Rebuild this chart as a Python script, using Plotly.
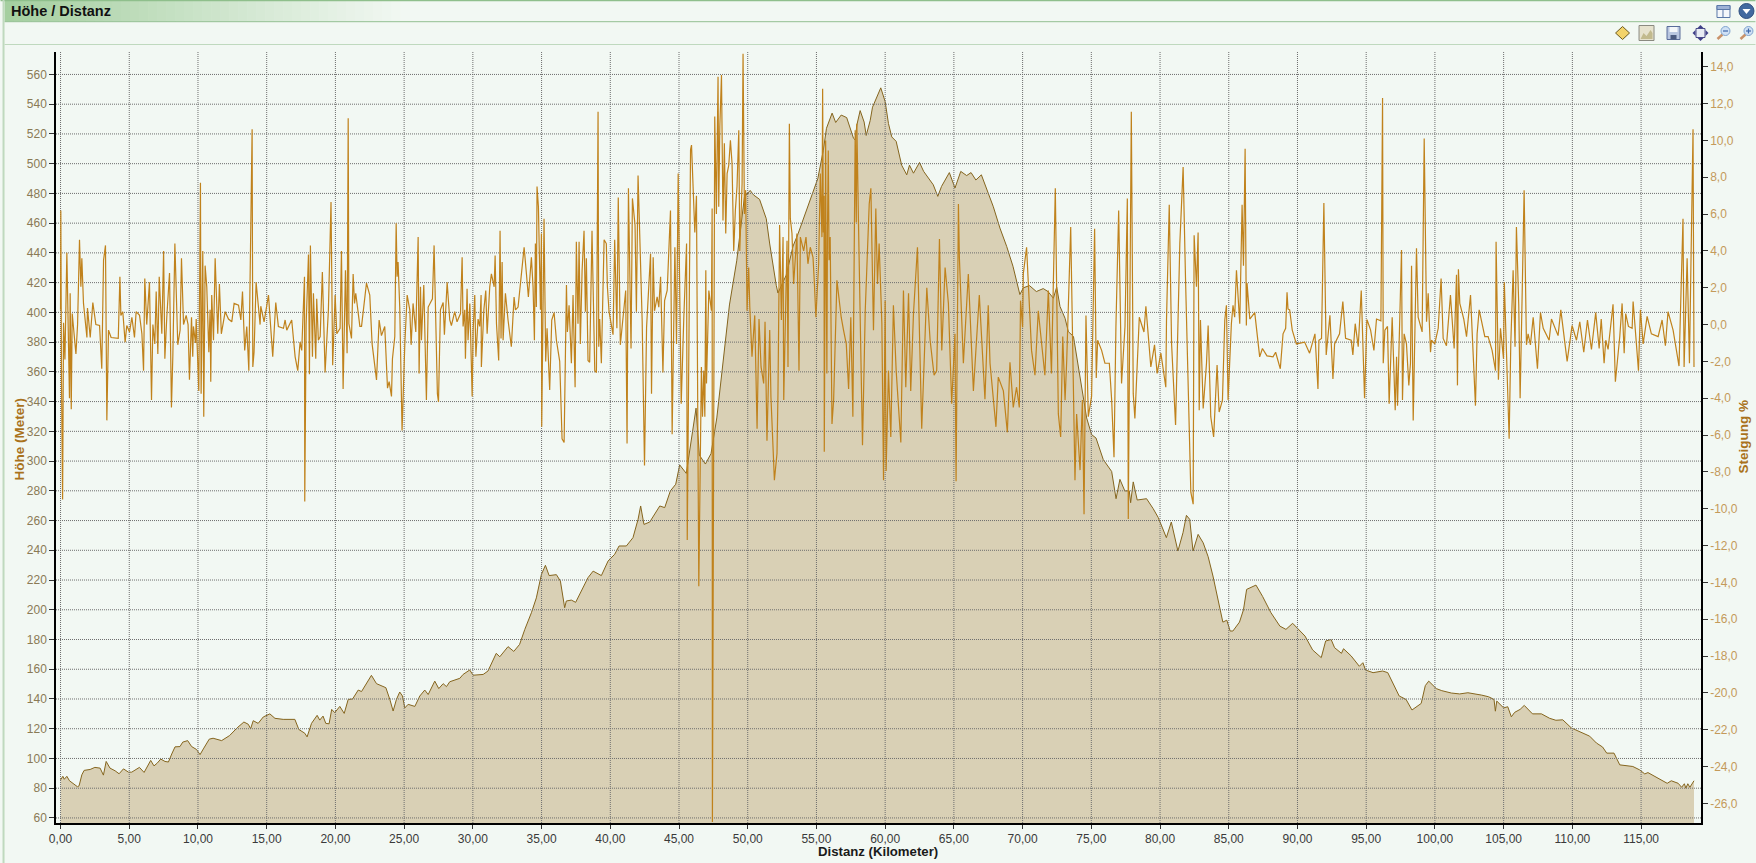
import plotly.graph_objects as go

W, H = 1756, 863
L, R, T, B = 55.5, 1701.5, 52.0, 823.0

TITLE = "Höhe / Distanz"
X_TITLE = "Distanz (Kilometer)"
Y_TITLE = "Höhe (Meter)"
Y2_TITLE = "Steigung %"

x_ticks = list(range(0, 116, 5))
x_labels = [f"{v},00" for v in x_ticks]
y_ticks = list(range(60, 561, 20))
y_labels = [str(v) for v in y_ticks]
y2_ticks = list(range(14, -27, -2))
y2_labels = [f"{v},0" for v in y2_ticks]

# (km, metres)
elevation = [
(0,85.6),(0.17,88),(0.27,86),(0.46,88),(0.65,85),(0.9,83),(1.23,81),(1.35,81.6),(1.55,89),(1.72,92),(2.15,92.6),(2.5,94),(2.88,93.5),(3.12,88.8),(3.32,98),(3.6,93.5),(3.97,91.7),(4.26,89.7),(4.58,93),(4.94,90.8),(5.18,90.8),(5.74,94),(6.08,90.6),(6.56,98.7),(6.8,95),(7.05,97),(7.29,99.6),(7.6,98),(7.85,97.6),(8.09,103),(8.33,107.8),(8.69,108),(8.89,111),(9.25,112),(9.54,108),(9.9,106),(10.15,102.6),(10.39,106.4),(10.82,113),(11.1,113.6),(11.72,112),(12.3,115.4),(12.85,120.6),(13.34,124.5),(13.66,123),(13.83,120),(14.02,125.4),(14.38,123.6),(14.75,127.9),(15.23,130),(15.6,127),(16.2,126.3),(17.05,126.3),(17.34,119.5),(17.77,117),(17.94,114.5),(18.26,123.6),(18.67,129),(18.86,125.8),(19.1,128.5),(19.3,123.6),(19.54,123.3),(19.73,133),(19.95,130.8),
(20.32,135),(20.64,130.3),(20.93,139.7),(21.25,140),(21.66,146),(21.9,145),(22.62,155.9),(22.99,150.3),(23.18,149.4),(23.67,147.6),(23.96,139.7),(24.2,131.9),(24.44,139.7),(24.68,144.7),(24.88,142),(25.05,134),(25.29,136.4),(25.78,135),(26.14,142),(26.5,146),(26.75,143),(27.23,152),(27.52,147),(27.84,150.3),(28.08,148.3),(28.32,151.6),(29.05,153.9),(29.29,156.5),(29.77,159.5),(30.02,156),(30.75,156.5),(31.1,158.8),(31.7,170.7),(31.96,168.4),(32.56,175.2),(32.98,172),(33.4,176.7),(33.78,186.8),(34.26,198),(34.62,208),(34.99,223.8),(35.28,229.9),(35.55,223),(36.08,223.6),(36.37,219.3),(36.68,201.4),(36.8,205.9),(37.17,206.5),(37.48,205),(37.9,212.6),(38.38,221.6),(38.75,226),(39.35,223),(39.84,232.8),(40.32,237.3),(40.64,242.9),(41.17,242.9),(41.65,248.5),(42.02,260.8),(42.21,269.8),(42.45,257.4),(42.87,259),(43.6,269.8),(43.96,268.7),(44.37,279.9),(44.76,284.4),(45.05,297.4),(45.53,291.7),
(46.24,335.6),(46.48,304),(46.92,298),(47.33,305),(47.75,329),(48.67,405),(49.2,434.7),(49.76,477.6),(50.18,482),(50.42,479),(50.86,476),(51.35,463),(51.6,446),(52.08,418),(52.2,413),(52.8,425),(53.3,444.6),(53.66,452.8),(54.03,462.7),(54.76,481),(55.1,490),(55.5,509),(55.73,523.8),(56.14,534),(56.4,527.7),(56.8,532.7),(57.2,531),(57.7,517),
(57.82,516),(57.94,526),(58.18,535.7),(58.47,528),(58.62,519),(58.91,529),(59.08,538),(59.68,551),(60,541.7),(60.24,527),(60.48,518),(60.8,515),(61.2,499),(61.57,492.5),(61.77,499),(62.06,493.6),(62.5,500.8),(62.8,494.8),(63.15,490),(63.5,485.8),(63.83,478),(64.1,484.7),(64.67,494),(65.08,483.6),(65.5,494.8),(65.93,492),(66.25,494),(66.6,489),(67,492.5),(67.5,480),(67.87,471),(68.35,456.7),(68.84,444.4),(69.3,431),(69.8,412),(70.05,416.5),(70.5,418),(71,414),(71.5,416),(71.85,414),(72.24,409.5),(72.48,417),(72.72,404),(73.09,396),(73.33,387),(73.7,383.8),(74.05,363.6),(74.4,343.5),(74.66,329),(75.02,317.8),(75.34,315.5),
(75.87,301),(76.48,293),(76.8,274.7),(77.08,287.7),(77.44,279.9),(77.76,280),(77.86,272),(78.05,286),(78.34,273.8),(79.02,274.7),(79.5,268),(79.87,262),(80.46,248.5),(80.82,259),(81.3,239.5),(81.67,251.8),(81.92,263.5),(82.16,260.8),(82.4,239.5),(82.77,250.7),(83.14,245),(83.5,235.7),(83.85,222.7),(84.1,211.5),(84.57,191.7),(84.86,193),(85.1,185.7),(85.3,185.7),(85.78,191.7),(86.07,200),(86.3,213.7),(86.98,216.6),(87.46,209),(88.07,198),(88.72,189),(89.16,186.8),(89.65,190.9),(90.55,182.3),(91.1,173),(91.73,167.8),(92.05,179),(92.45,180),(92.7,174.5),(93.2,170.7),(93.35,173.8),(93.9,169),(94.5,162),(94.76,164.4),(94.95,159.5),(95.5,157.7),(96.2,158.8),(96.57,157.7),(97.05,148.7),(97.4,142),(97.9,139.7),(98.33,132.6),(99,137),(99.3,149),(99.55,152),(100.1,147),
(100.5,145.6),(101.2,144),(101.8,143.4),(102.4,144.2),(103.4,142.6),(103.9,141.5),(104.3,139.7),(104.4,131.8),(104.5,138.6),(105,134),(105.3,134.8),(105.56,128),(105.8,131),(106.2,133),(106.5,135.7),(107.1,130),(107.75,130),(108.35,127),(108.8,125.7),(109.3,126),(109.93,120.5),(110.65,117.6),(111.26,115),(111.75,110.4),(112.2,107.7),(112.5,103.6),(113.03,103.6),(113.45,95.7),(113.93,95),(114.4,94.6),(114.9,92.3),(115.27,89.6),(115.5,90.5),(116.25,86.7),(116.9,83.3),(117.2,85),(117.7,83.3),(117.95,80.6),(118.15,83),(118.26,80),(118.4,83),(118.55,80.6),(118.85,85),
]

# (km, percent)
gradient_a = [
(0,0.8),(0.02,6.2),(0.07,-3),(0.15,-9.5),(0.22,0.1),(0.32,-1.9),(0.46,3.9),(0.58,-1),(0.65,-4),(0.7,1.7),(0.78,-4.6),(0.85,0.6),(1.02,-0.85),(1.12,-1.6),(1.24,0),(1.38,4.6),(1.48,2.05),(1.55,3.6),(1.67,1.15),(1.92,-0.7),(1.96,0.9),(2.16,-0.7),(2.35,1.2),(2.57,0),(2.84,-0.05),(3,-2.4),(3.13,3.5),(3.27,4.3),(3.37,-5.2),(3.49,-0.3),(3.68,-0.7),(4.2,-0.75),(4.32,2.6),(4.39,0.5),(4.53,0.7),(4.7,-0.95),(4.82,-0.05),(5.02,-0.4),(5.19,0.4),(5.38,-0.7),(5.5,0.7),(5.75,0.5),(5.92,-0.5),(6.04,-2.5),(6.13,2.5),(6.27,0),(6.47,2.3),(6.62,-4.1),(6.72,0),(6.86,-1.05),(6.96,1.8),(7.08,-1.6),(7.18,2.6),(7.37,-0.5),(7.5,4),(7.59,-1.85),(7.73,0.4),(7.93,2.8),(8.07,-4.5),(8.17,-1.75),(8.32,4.4),(8.53,-1.1),(8.7,-0.3),(8.8,3.6),(8.95,0),(9.14,0.5),(9.28,0),(9.38,-3),(9.53,0.4),(9.62,-1.75),(9.67,-0.1),(9.82,-1),(9.87,0.3),(10.06,-3.6),(10.18,7.7),(10.23,-3.75),(10.35,4),(10.42,-5),(10.52,3.2),(10.64,2.05),(10.79,-1.5),(10.88,0.8),(10.93,-3.1),(11,1.6),(11.13,-0.85),(11.25,3.6),(11.44,-0.5),(11.56,2.2),(11.7,-0.5),(11.98,0.7),(12.22,0.3),(12.46,0.15),(12.63,1.15),(12.95,1.05),(13.12,0.25),(13.24,1.8),(13.4,-1.4),(13.55,-0.1),(13.7,-2.5),(13.94,10.6),(13.99,-2.3),(14.08,-1.5),(14.23,2.3),(14.52,0),(14.57,1),(14.81,0.15),(15.13,1.6),(15.44,-1.75),(15.66,1.2),(15.85,-0.1),(16.22,-0.2),(16.34,0.25),(16.46,-0.3),(16.82,0.25),(17.07,-1.75),(17.26,-2.5),(17.43,-0.95),(17.55,-1.4),(17.75,2.6),(17.77,-9.6),(17.87,0),(18.04,3.8),(18.11,-2.7),(18.18,4.3),(18.33,-1.75),(18.4,1.7),(18.57,-1.85),(18.64,1.4),(18.76,-0.85),(18.89,-0.65),(19.05,2.85),(19.25,-2.6),(19.49,0.8),(19.68,6.65),(19.8,-2.2),(19.98,1.6),(20.1,-0.5),(20.34,-0.2),
(20.44,4),(20.56,-3.5),(20.73,2.95),(20.85,-1.55),(20.93,11.2),(20.98,0.05),(21.17,-0.75),(21.29,2.75),(21.39,1.15),(21.48,1.7),(21.78,-0.1),(21.9,-0.1),(22.26,2.25),(22.5,1.6),(22.67,-1.05),(22.99,-3),(23.18,0.25),(23.35,-0.6),(23.59,-0.1),(23.79,-3.45),(23.91,-3.1),(24.08,-3.9),(24.15,-1.85),(24.32,-0.65),(24.42,5.5),(24.49,2.6),(24.56,3.4),(24.68,0.95),(24.85,-5.75),(25.05,-1.05),(25.22,1.6),(25.41,0.8),(25.51,-1.1),(25.65,1.15),(25.85,-0.4),(26.02,4.75),(26.09,-2.65),(26.19,2.05),(26.26,-0.85),(26.43,2.15),(26.62,-4.1),(26.75,0.95),(27.06,1.4),(27.18,4.3),(27.42,-3.75),(27.5,-4.2),(27.64,0.8),(27.84,1.2),(27.93,-0.55),(28.13,2.3),(28.32,0.25),(28.44,-0.05),(28.68,0.7),(28.85,0.15),(29.1,0.6),(29.22,3.65),(29.29,-0.1),(29.41,0.8),(29.46,-1.85),(29.58,1.95),(29.65,-0.85),(29.78,1.15),(29.95,-3.9),(30.02,-0.3),(30.14,1.6),(30.22,-1.75),(30.38,0.3),(30.5,-0.1),(30.6,1.6),(30.62,-2.3),(30.8,0.8),(30.94,1.85),(31.04,-0.5),(31.23,2.05),(31.35,2.75),(31.55,2.05),(31.62,3.75),(31.72,0.05),(31.88,-1.95),(31.98,5.1),(32.05,-0.75),(32.13,3.4),(32.2,-0.85),(32.37,1.7),(32.56,0.25),(32.8,-1.2),(33,1.5),(33.1,0.8),(33.29,0.95),(33.53,2.75),(33.73,4.2),(33.9,2.75),(34.04,1.5),(34.26,3.65),(34.38,2.05),(34.48,-0.85),(34.55,4.4),(34.62,0.95),(34.67,7.5),(34.77,6.4),(34.92,0.8),(34.99,4.95),(35.01,-5.55),(35.18,5.75),(35.3,-2),(35.4,-0.2),(35.59,-3.55),(35.74,0.25),(35.91,0.65),(36.08,-0.85),(36.32,-2),(36.49,-6.2),(36.64,-6.4),(36.81,2.15),(36.88,-0.4),(37,1.05),(37.17,-2.1),(37.29,1.6),(37.44,-3.4),(37.53,4.5),(37.65,0.05),(37.73,4.5),(37.82,-1.05),(37.95,2.95),(38.09,5.1),(38.19,0.7),(38.26,3.6),(38.38,-1.95),(38.5,-2.05),(38.67,5.1),(38.87,-2.5),(38.99,-2.6),(39.11,11.55),(39.16,-1.2),(39.23,0.3),(39.35,-2.1),(39.55,4.6),(39.71,4.4),(39.79,2.05),(39.91,0.7),(40.08,0.05),(40.2,-0.55),(40.32,4.6),(40.48,-0.2),(40.58,6.9),(40.73,-1.1),(40.93,0.4),(41.12,1.85),(41.22,-6.45),(41.32,7.4),(41.51,-1.3),(41.61,6.85),(41.8,5.4),(41.9,0.7),(42.02,8.1),
]
gradient_b = [
(42.2,4),(42.32,0.2),(42.49,-7.65),(42.64,-0.15),(42.93,3.85),(43,-3.75),(43.12,3.65),(43.22,0.75),(43.41,1.5),(43.53,0.95),(43.66,2.6),(43.83,-2.6),(43.95,1.3),(44.14,1.85),(44.38,6.2),(44.5,-5.95),(44.7,4.2),(44.82,-1.05),(44.94,8.2),(45.06,2.2),(45.16,-4.3),(45.35,0.4),(45.55,4.4),(45.6,-11.7),(45.84,9.5),(45.91,9.75),(46.03,7.1),(46.15,5),(46.27,7),(46.44,-14.2),(46.63,-2.3),(46.71,-5),(46.8,-2.5),(46.88,-5),(46.95,2.95),(47,-3.2),(47.17,1.85),(47.36,0.75),(47.41,6.3),(47.43,-27),(47.6,11.3),(47.72,6),(47.84,13.45),(47.89,6.4),(47.97,10.75),(48.09,13.55),(48.2,5.65),(48.3,9.85),(48.4,4.95),(48.5,8.2),(48.62,8.65),(48.74,10),(48.86,8.75),(48.98,4),(49.1,6.2),(49.22,7.5),(49.35,10.55),(49.42,4),(49.59,7.65),(49.66,14.7),(49.76,6),(49.85,7.3),(49.95,0.75),(50.07,3.1),(50.15,0.95),(50.31,-1.75),(50.51,0.5),(50.68,-5.65),(50.82,0.3),(50.97,-2.3),(51.16,-3.2),(51.26,0.15),(51.4,-6.3),(51.6,-0.3),(51.69,-3.95),(51.94,-8.45),(52.13,-7),(52.2,-3.75),(52.32,5.4),(52.45,0.25),(52.57,4.75),(52.62,-4.1),(52.86,4.55),(52.93,-2.3),(53.03,10.9),(53.1,5.75),(53.22,4.95),(53.34,2.2),(53.58,4.95),(53.73,-2.5),(53.83,4.75),(54.07,4),(54.24,4.75),(54.38,3.3),(54.55,4.2),(54.75,3.65),(54.84,2.4),(54.96,0.4),(55.16,3.3),(55.28,8.2),(55.4,4.75),(55.45,12.8),(55.5,5),(55.55,7),(55.57,-6.9),(55.62,6),(55.67,10),(55.7,4),(55.76,-2.65),(55.8,5),(55.86,9.45),(55.92,3.5),(56,4.75),(56.13,-5.4),(56.25,-4.1),(56.49,2.4),(56.8,0.4),(56.97,-0.3),(57.17,-1.05),(57.34,-3.5),(57.5,0.4),(57.65,-5),(57.82,10.55),(57.9,5.55),(57.94,10.9),(58.06,5.5),(58.18,-0.5),(58.35,-6.55),(58.55,0.75),(58.84,6.55),(58.96,7.4),(59.15,-0.3),(59.32,6.3),(59.44,2.2),(59.56,4.4),(59.76,0.05),(59.88,-8.45),(60,1.3),(60.07,-7.95),(60.24,-2.5),(60.41,-6.1),(60.6,1.05),(60.8,-2.5),(61.14,-6.4),(61.33,1.85),(61.5,-3.4),(61.7,1.7),(61.86,-3.6),(62.06,0.6),(62.35,4.2),(62.66,-5.65),(63.03,2),(63.27,-0.85),(63.56,-2.75),(63.75,-2.5),(63.95,4.65),(64.12,-1.4),(64.36,3.1),(64.6,1.15),(64.84,-4.3),(65.08,-0.5),(65.16,-8.5),(65.33,6.55),(65.4,3.65),(65.69,-2.1),(66.05,2.75),(66.42,-3.6),(66.85,1.6),(67.26,-4.05),(67.5,1.05),(67.63,-2.1),(67.87,-3.95),(68.06,-5.55),(68.23,-2.85),(68.6,-3.6),(68.89,-5.85),(69.08,-2.05),(69.32,-4.5),(69.56,-3.4),(69.76,-4.5),(69.85,1.3),(70,-0.15),(70.05,2.75),(70.29,4.2),(70.41,2.2),(70.65,-1.4),(70.9,-2.75),(71.14,0.75),(71.62,-2.75),(71.87,1.85),(72.1,-2.65),
(72.38,7.4),(72.6,-4.85),(72.77,-6.1),(72.92,-0.65),(73.09,-4.1),(73.21,-1.95),(73.5,5.3),(73.62,-0.1),(73.81,-8.45),(73.93,-4.85),(74.18,-7.9),(74.35,-4.1),(74.47,-10.3),(74.61,0.5),(74.78,-5),(75.02,-3.9),(75.15,1.15),(75.24,5.2),(75.36,-2.9),(75.46,-0.85),(75.75,-1.4),(75.99,-2.1),(76.31,-2.1),(76.48,-4.1),(76.65,-7.2),(76.79,-0.1),(76.99,6.2),(77.2,-3.2),(77.45,-0.1),(77.62,6.85),(77.69,-10.55),(77.91,11.55),(78.05,-3.75),(78.17,-5.1),(78.49,0.4),(78.83,-0.4),(78.97,1),(79.33,-2.3),(79.6,-1.1),(79.79,-2.65),(80.06,-1.55),(80.42,-3.4),(80.47,0.25),(80.67,6.5),(80.84,-1.05),(81.13,-5.45),(81.44,4.4),(81.68,8.55),(81.85,2.6),(82.17,-7.4),(82.24,-9.1),(82.41,-9.75),(82.48,4.85),(82.65,2.05),(82.77,5),(82.85,-4.65),(82.94,0.25),(83.14,-4.55),(83.38,-2.1),(83.5,-0.05),(83.69,-5),(83.9,-6.1),(84.15,-2.2),(84.3,-4.75),(84.54,-4.1),(84.71,0.25),(84.83,1.05),(84.95,-4.1),(85.19,0.05),(85.31,1.05),(85.43,0.4),(85.56,2.95),(85.8,0.05),(85.97,6.5),(86.07,3.2),(86.19,9.55),(86.28,-0.05),(86.33,2.25),(86.53,0.3),(86.89,0.65),(87.25,-1.75),(87.45,-1.3),(87.78,-1.7),(88.22,-1.75),(88.41,-1.5),(88.75,-2.4),(88.95,-0.5),(89.14,-0.2),(89.24,1.75),(89.31,0.85),(89.43,0.8),(89.62,-0.3),(89.92,-1.05),(90.52,-0.95),(90.88,-1.55),(91.27,-0.5),(91.49,-3.5),(91.56,-0.85),(91.75,-0.75),(91.92,6.6),(92.09,-1.65),(92.36,0.5),(92.58,-2.95),(92.7,-1.05),(93.06,-0.5),(93.3,1.25),(93.5,-0.75),(93.91,-0.85),(94.03,-1.65),(94.2,0.05),(94.42,-1.2),(94.64,1.85),(94.88,-4),(95.05,0.25),
]
gradient_c = [
(95.07,0.25),(95.32,-0.3),(95.56,-1.4),(95.75,0.3),(96.07,0.2),(96.19,12.3),(96.24,-2.1),(96.36,-0.3),(96.55,-0.1),(96.67,-4.3),(96.89,0.4),(97.11,-4.65),(97.21,-1.75),(97.28,-4.4),(97.45,1.15),(97.57,4.05),(97.64,-4.1),(97.76,-0.5),(97.93,-1.05),(98.1,-3.3),(98.22,-2.1),(98.3,3.2),(98.42,-5.2),(98.66,4.15),(98.78,0.4),(99.07,-0.4),(99.22,10.1),(99.39,0.15),(99.51,1.7),(99.68,-1.5),(99.75,-0.85),(99.99,-1.05),(100.24,-0.2),(100.45,2.5),(100.6,-0.75),(100.84,-1.15),(101.13,1.6),(101.4,-1.3),(101.57,2.7),(101.64,-3.3),(101.71,3),(101.81,1.15),(102.1,0.3),(102.3,-0.65),(102.59,1.6),(102.78,-1.55),(102.95,-4.4),(103.07,-0.5),(103.22,0.8),(103.63,-0.65),(103.87,-0.65),(104.16,-1.4),(104.41,-2.5),(104.45,4.5),(104.62,-3),(104.77,-0.2),(104.99,-1.85),(105.05,2.3),(105.18,-0.65),(105.4,-6.2),(105.52,-1.05),(105.69,2.95),(105.83,-1.2),(105.93,5.3),(106.1,1.05),(106.2,-4),(106.37,2.5),(106.49,7.3),(106.66,-1.1),(106.78,-0.5),(106.95,-1.1),(107.15,0.4),(107.46,-2.4),(107.68,0.65),(107.88,-0.2),(108.31,-0.85),(108.48,0.3),(108.96,-0.6),(109.16,0.8),(109.62,-2),(109.98,-0.05),(110.3,-0.85),(110.54,0.15),(110.83,-1.5),(111.1,0.25),(111.39,-1.35),(111.7,0.65),(111.95,-1.3),(112.1,0.3),(112.31,-2.1),(112.43,-0.85),(112.6,-1.35),(112.96,1.1),(113.13,-3.1),(113.45,-0.65),(113.62,1.15),(113.77,-1.55),(113.88,0.6),(114.08,-0.1),(114.35,-0.2),(114.42,1.25),(114.81,-2.5),(114.95,0.8),(115.15,-1.05),(115.44,0.45),(115.75,-0.5),(116.24,-0.65),(116.53,0.25),(116.77,-1.15),(116.96,0.7),(117.33,-0.3),(117.76,-2.25),(118.05,5.75),(118.13,-2.3),(118.35,3.6),(118.52,-2.1),(118.61,2.4),(118.78,10.6),(118.85,-2.3),
]
gradient = gradient_a + gradient_b + gradient_c

BG = "#F2F8F3"
GRID = "#6E6E6E"
x_range = [-0.33, 119.36]
y_range = [56.6, 575.1]
y2_range = [-27.06, 14.8]

def px(x): return (x - L) / (R - L)
def py(y): return (B - y) / (B - T)

shapes = []
def rect(x0, y0, x1, y1, fill=None, line=None, lw=1):
    shapes.append(dict(type="rect", xref="paper", yref="paper", x0=px(x0), x1=px(x1), y0=py(y1), y1=py(y0),
                       fillcolor=fill or "rgba(0,0,0,0)", line=dict(color=line or "rgba(0,0,0,0)", width=lw if line else 0), layer="above"))
def hline(x0, x1, y, color, lw=1):
    shapes.append(dict(type="line", xref="paper", yref="paper", x0=px(x0), x1=px(x1), y0=py(y), y1=py(y), line=dict(color=color, width=lw), layer="above"))
def vline(x, y0, y1, color, lw=1):
    shapes.append(dict(type="line", xref="paper", yref="paper", x0=px(x), x1=px(x), y0=py(y0), y1=py(y1), line=dict(color=color, width=lw), layer="above"))
def path(d_pts, fill=None, line=None, lw=1):
    d = "M " + " L ".join(f"{px(a):.6f},{py(b):.6f}" for a, b in d_pts) + " Z"
    shapes.append(dict(type="path", xref="paper", yref="paper", path=d, fillcolor=fill or "rgba(0,0,0,0)",
                       line=dict(color=line or "rgba(0,0,0,0)", width=lw if line else 0), layer="above"))
def circle(cx, cy, r, fill=None, line=None, lw=1):
    shapes.append(dict(type="circle", xref="paper", yref="paper", x0=px(cx-r), x1=px(cx+r), y0=py(cy+r), y1=py(cy-r),
                       fillcolor=fill or "rgba(0,0,0,0)", line=dict(color=line or "rgba(0,0,0,0)", width=lw if line else 0), layer="above"))

# title-bar gradient
c0, c1 = (165, 207, 160), (242, 248, 243)
N = 45
for i in range(N):
    t = i / (N - 1)
    col = "rgb(%d,%d,%d)" % tuple(round(a + (b - a) * t) for a, b in zip(c0, c1))
    x0 = 4 + i * 9
    rect(x0, 1, x0 + 9.5, 21.5, fill=col)
hline(0, W, 0.5, "#8FBF8C", 1.5)
hline(4, W, 21.7, "#93BF92", 1)
hline(4, W, 44.5, "#BFD9BE", 1)
vline(3, 0, H, "#BFD9BE", 2)

# toolbar icons
rect(1717.5, 5.5, 1730.5, 17.5, fill="#F4F7FB", line="#5A78A8")
rect(1717.5, 5.5, 1730.5, 9.5, fill="#9DB2D6", line="#5A78A8")
vline(1723.5, 9.5, 17.5, "#5A78A8")
circle(1747, 11, 7.5, fill="#41699F", line="#2F4F80")
path([(1743, 9), (1751, 9), (1747, 14)], fill="#FFFFFF")
path([(1623, 26.5), (1630, 33), (1623, 39.5), (1616, 33)], fill="#F3D36A", line="#6B5A20")
rect(1639.5, 25.5, 1654.5, 40.5, fill="#E6E2CE", line="#8A8A80")
path([(1641, 39), (1644, 33), (1647, 36), (1651, 30), (1653, 33), (1653, 39)], fill="#C2BA8E")
rect(1667.5, 26.5, 1680.5, 39.5, fill="#B9C6E0", line="#5A6C9A")
rect(1670, 27, 1678, 32, fill="#F4F6FA")
rect(1671, 35, 1677, 39.5, fill="#4B5A80")
rect(1696.5, 28.5, 1705.5, 37.5, fill="#E8ECF4", line="#4A4A8A")
path([(1701, 25), (1704, 28), (1698, 28)], fill="#3F3F88")
path([(1701, 41), (1704, 38), (1698, 38)], fill="#3F3F88")
path([(1693, 33), (1696, 30), (1696, 36)], fill="#3F3F88")
path([(1709, 33), (1706, 30), (1706, 36)], fill="#3F3F88")
for cx, plus in ((1726, False), (1749, True)):
    shapes.append(dict(type="line", xref="paper", yref="paper", x0=px(cx-8), y0=py(39), x1=px(cx-3), y1=py(34.5), line=dict(color="#C9926A", width=2.5), layer="above"))
    circle(cx, 31, 4.5, fill="#CFE0F4", line="#7FA3CF")
    hline(cx-2.5, cx+2.5, 31, "#3D66A8", 1.2)
    if plus:
        vline(cx, 28.5, 33.5, "#3D66A8", 1.2)

annotations = [
    dict(text=f"<b>{TITLE}</b>", xref="paper", yref="paper", x=px(8), y=py(11), xanchor="left", yanchor="middle", showarrow=False,
         font=dict(family="Liberation Sans", size=14.5, color="#111111")),
    dict(text=f"<b>{X_TITLE}</b>", xref="paper", yref="paper", x=px(878), y=py(851), xanchor="center", yanchor="middle", showarrow=False,
         font=dict(family="Liberation Sans", size=13.2, color="#1A1A1A")),
    dict(text=f"<b>{Y_TITLE}</b>", xref="paper", yref="paper", x=px(18), y=py(439), xanchor="center", yanchor="middle", textangle=-90, showarrow=False,
         font=dict(family="Liberation Sans", size=13.5, color="#A9721C")),
    dict(text=f"<b>{Y2_TITLE}</b>", xref="paper", yref="paper", x=px(1744), y=py(436), xanchor="center", yanchor="middle", textangle=-90, showarrow=False,
         font=dict(family="Liberation Sans", size=13.5, color="#A9721C")),
]

grid_x_x, grid_x_y = [], []
for v in x_ticks:
    grid_x_x += [v, v, None]
    grid_x_y += [y_range[0], y_range[1], None]
grid_y_x, grid_y_y = [], []
for v in y_ticks:
    grid_y_x += [x_range[0], x_range[1], None]
    grid_y_y += [v, v, None]

fig = go.Figure()
fig.add_trace(go.Scatter(x=[p[0] for p in elevation], y=[p[1] for p in elevation], mode="lines", name="Höhe",
                         line=dict(color="#85651E", width=1), fill="tozeroy", fillcolor="#D9D0B5", hoverinfo="skip"))
fig.add_trace(go.Scatter(x=grid_x_x, y=grid_x_y, mode="lines", line=dict(color=GRID, width=1, dash="1px,1px"), hoverinfo="skip"))
fig.add_trace(go.Scatter(x=grid_y_x, y=grid_y_y, mode="lines", line=dict(color=GRID, width=1, dash="1px,1px"), hoverinfo="skip"))
fig.add_trace(go.Scatter(x=[p[0] for p in gradient], y=[p[1] for p in gradient], mode="lines", name="Steigung", yaxis="y2",
                         line=dict(color="#C0821C", width=1.2), hoverinfo="skip"))

tick_font = dict(family="Liberation Sans", size=12)
fig.update_layout(
    width=W, height=H, autosize=False, showlegend=False,
    margin=dict(l=L, r=W - R, t=T, b=H - B, pad=0),
    paper_bgcolor=BG, plot_bgcolor=BG,
    xaxis=dict(range=x_range, tickvals=x_ticks, ticktext=x_labels, showgrid=False, zeroline=False, showline=True, linecolor="#000000", linewidth=1.5,
               ticks="outside", ticklen=4, tickcolor="#333333", tickfont=dict(tick_font, color="#3A3A3A"), mirror=False),
    yaxis=dict(range=y_range, tickvals=y_ticks, ticktext=y_labels, showgrid=False, zeroline=False, showline=True, linecolor="#000000", linewidth=1.5,
               ticks="outside", ticklen=5, tickcolor="#333333", tickfont=dict(tick_font, color="#8A7A55")),
    yaxis2=dict(range=y2_range, tickvals=y2_ticks, ticktext=y2_labels, overlaying="y", side="right", showgrid=False, zeroline=False, showline=True,
                linecolor="#000000", linewidth=1.5, ticks="outside", ticklen=5, tickcolor="#333333", tickfont=dict(tick_font, color="#C49A5A")),
    shapes=shapes, annotations=annotations,
)

fig.write_html("out.html", config=dict(displayModeBar=False, responsive=False),
               post_script="document.body.style.margin='0';document.body.style.overflow='hidden';document.documentElement.style.background='%s';" % BG)
